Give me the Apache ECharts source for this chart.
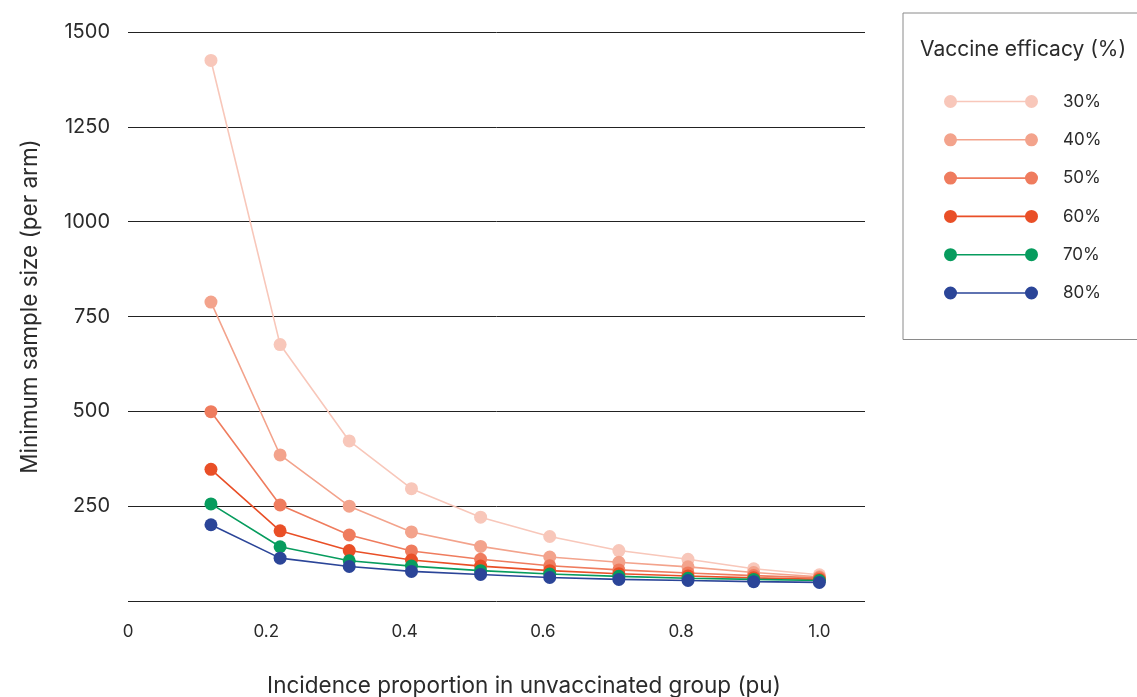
<!DOCTYPE html>
<html>
<head>
<meta charset="utf-8">
<script src="https://cdn.jsdelivr.net/npm/echarts@6/dist/echarts.min.js"></script>
<style>
  html, body { margin: 0; padding: 0; background: #fff; }
  #chart { width: 1137px; height: 697px; }
</style>
</head>
<body>
<div id="chart"></div>
<script>
// Incidence proportion in unvaccinated group (x)
const incidence = [0.12, 0.22, 0.32, 0.41, 0.51, 0.61, 0.71, 0.81, 0.905, 1.0];
// Minimum sample size (per arm) per vaccine efficacy
const efficacyNames = ['30%', '40%', '50%', '60%', '70%', '80%'];
const eff30 = [1425, 676, 422, 296, 221, 170, 133, 110, 85, 69];
const eff40 = [788, 385, 250, 182, 144, 116, 102, 90, 75, 64];
const eff50 = [499, 253, 174, 132, 110, 93, 82, 74, 67, 61];
const eff60 = [347, 185, 133, 108, 92, 80, 72, 66, 61, 57];
const eff70 = [256, 143, 106, 92, 80, 71, 65, 60, 57, 54];
const eff80 = [201, 113, 91, 78, 70, 62, 57, 54, 51, 49];
const xTicks = [0, 0.2, 0.4, 0.6, 0.8, 1.0];
const yTicks = [250, 500, 750, 1000, 1250, 1500];

const seriesValues = [eff30, eff40, eff50, eff60, eff70, eff80];
const colors = ['#f8c7ba', '#f3a38c', '#ef7c5e', '#e94f27', '#079c5e', '#2b4598'];

const FONT = 'Inter, "Noto Sans", sans-serif';
const TEXT = '#2b2b2b';

const iconPath = 'path://M0,6.5 A6.5,6.5 0 1,1 13,6.5 A6.5,6.5 0 1,1 0,6.5 Z ' +
  'M81,6.5 A6.5,6.5 0 1,1 94,6.5 A6.5,6.5 0 1,1 81,6.5 Z ' +
  'M6.5,5.7 L87.5,5.7 L87.5,7.3 L6.5,7.3 Z';

const chart = echarts.init(document.getElementById('chart'));
chart.setOption({
  animation: false,
  backgroundColor: '#ffffff',
  textStyle: { fontFamily: FONT, color: TEXT },
  title: {
    text: 'Vaccine efficacy (%)',
    left: 920,
    top: 39,
    padding: 0,
    textStyle: { fontFamily: FONT, fontSize: 21, fontWeight: 'normal', color: TEXT }
  },
  legend: {
    orient: 'vertical',
    left: 903,
    top: 13,
    padding: [80, 80, 38, 41],
    borderColor: '#8a8a8a',
    borderWidth: 1,
    itemWidth: 94,
    itemHeight: 13,
    itemGap: 21.3,
    icon: iconPath,
    data: efficacyNames,
    textStyle: { fontFamily: FONT, fontSize: 17, color: TEXT, padding: [0, 0, 0, 20], lineHeight: 13 }
  },
  grid: { left: 128, right: 272, top: 32, bottom: 96, containLabel: false, outerBoundsMode: 'none' },
  xAxis: {
    type: 'value',
    min: 0,
    max: 1.066,
    interval: 0.2,
    name: 'Incidence proportion in unvaccinated group (pu)',
    nameLocation: 'middle',
    nameGap: 74,
    nameTextStyle: { fontFamily: FONT, fontSize: 22.5, color: TEXT, padding: [0, 0, 0, 55] },
    axisLine: { show: false },
    axisTick: { show: false },
    splitLine: { show: false },
    axisLabel: {
      showMaxLabel: false,
      margin: 22,
      fontFamily: FONT,
      fontSize: 17,
      color: TEXT,
      formatter: function (v) {
        const t = xTicks.find(function (k) { return Math.abs(k - v) < 1e-6; });
        if (t === undefined) return '';
        return t === 0 ? '0' : t.toFixed(1);
      }
    }
  },
  yAxis: {
    type: 'value',
    min: 0,
    max: 1500,
    interval: 250,
    name: 'Minimum sample size (per arm)',
    nameLocation: 'middle',
    nameGap: 86,
    nameTextStyle: { fontFamily: FONT, fontSize: 22.5, color: TEXT, padding: [0, 0, 0, 20] },
    axisLine: { show: false },
    axisTick: { show: false },
    splitLine: { show: true, lineStyle: { color: '#222', width: 1 } },
    axisLabel: {
      margin: 18,
      fontFamily: FONT,
      fontSize: 20,
      color: TEXT,
      formatter: function (v) { return yTicks.indexOf(v) >= 0 ? String(v) : ''; }
    }
  },
  series: seriesValues.map(function (vals, i) {
    return {
      name: efficacyNames[i],
      type: 'line',
      data: incidence.map(function (x, j) { return [x, vals[j]]; }),
      symbol: 'circle',
      symbolSize: 13,
      showSymbol: true,
      color: colors[i],
      lineStyle: { color: colors[i], width: 1.6 },
      itemStyle: { color: colors[i] },
      z: 2 + i
    };
  })
});
</script>
</body>
</html>
